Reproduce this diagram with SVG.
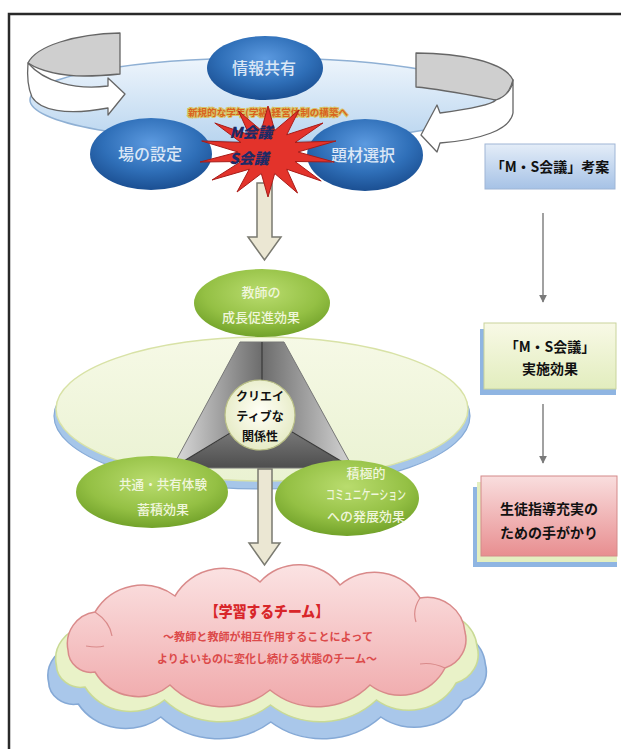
<svg xmlns="http://www.w3.org/2000/svg" width="621" height="749" viewBox="0 0 621 749">
  <defs>
    <style>
      .jp { font-family: "Noto Sans CJK JP", "Noto Sans", sans-serif; }
      .blueTxt { fill: #dbe7f6; font-size: 16px; font-weight: 500; text-anchor: middle; }
      .greenTxt { fill: #f0f6dc; font-size: 13px; font-weight: 500; text-anchor: middle; }
      .boxTxt { fill: #111; font-size: 14px; font-weight: 700; text-anchor: middle; }
      .ribbon { stroke: #666; stroke-width: 1.3; stroke-linejoin: round; }
      .bigArrow { fill: #ebe7d3; stroke: #7a7a70; stroke-width: 1.5; }
      .thin { stroke: #8a8a8a; stroke-width: 1.6; fill: none; marker-end: url(#tip); }
      .divider { stroke: #3a3a3a; stroke-width: 1.2; }
    </style>
    <marker id="tip" viewBox="0 0 10 10" refX="9" refY="5" markerWidth="5" markerHeight="5" orient="auto">
      <path d="M0,0 L10,5 L0,10 Z" fill="#7a7a7a"/>
    </marker>
    <radialGradient id="gBlue" cx="50%" cy="35%" r="65%">
      <stop offset="0" stop-color="#5c9ae0"/>
      <stop offset="0.6" stop-color="#2f6fb8"/>
      <stop offset="1" stop-color="#1b4f92"/>
    </radialGradient>
    <radialGradient id="gGreen" cx="50%" cy="35%" r="65%">
      <stop offset="0" stop-color="#b9dc6e"/>
      <stop offset="0.65" stop-color="#94c044"/>
      <stop offset="1" stop-color="#72a22a"/>
    </radialGradient>
    <linearGradient id="gPlatter" x1="0" y1="0" x2="0" y2="1">
      <stop offset="0" stop-color="#eef5fc"/>
      <stop offset="1" stop-color="#b9d5ef"/>
    </linearGradient>
    <linearGradient id="gPale" x1="0" y1="0" x2="0" y2="1">
      <stop offset="0" stop-color="#f6f9e6"/>
      <stop offset="1" stop-color="#eaf2d2"/>
    </linearGradient>
    <linearGradient id="gLeftFace" x1="0" y1="0" x2="1" y2="0">
      <stop offset="0" stop-color="#dedede"/>
      <stop offset="1" stop-color="#6c6c6c"/>
    </linearGradient>
    <linearGradient id="gRightFace" x1="0" y1="0" x2="1" y2="0">
      <stop offset="0" stop-color="#6c6c6c"/>
      <stop offset="1" stop-color="#d6d6d6"/>
    </linearGradient>
    <linearGradient id="gBottomFace" x1="0" y1="0" x2="0" y2="1">
      <stop offset="0" stop-color="#8a8a8a"/>
      <stop offset="1" stop-color="#4e4e4e"/>
    </linearGradient>
    <radialGradient id="gCircle" cx="50%" cy="45%" r="55%">
      <stop offset="0" stop-color="#fffff6"/>
      <stop offset="1" stop-color="#e6ebc6"/>
    </radialGradient>
    <linearGradient id="gPink" x1="0" y1="0" x2="0" y2="1">
      <stop offset="0" stop-color="#fbe3e3"/>
      <stop offset="1" stop-color="#f0a9ab"/>
    </linearGradient>
    <linearGradient id="gBox1" x1="0" y1="0" x2="0" y2="1">
      <stop offset="0" stop-color="#e4edf8"/>
      <stop offset="1" stop-color="#a6c2e6"/>
    </linearGradient>
    <linearGradient id="gBox2" x1="0" y1="0" x2="0" y2="1">
      <stop offset="0" stop-color="#f8f9e6"/>
      <stop offset="1" stop-color="#e2edbe"/>
    </linearGradient>
    <linearGradient id="gBox3" x1="0" y1="0" x2="0" y2="1">
      <stop offset="0" stop-color="#f9dede"/>
      <stop offset="1" stop-color="#e88e90"/>
    </linearGradient>
    <path id="cloud" d="M 68 650 A 32 32 0 0 1 95 612 A 55 55 0 0 1 175 596 A 56 56 0 0 1 260 582 A 52 52 0 0 1 340 585 A 53 53 0 0 1 420 598 A 38 38 0 0 1 465 632 A 30 30 0 0 1 445 668 A 50 50 0 0 1 370 685 A 75 75 0 0 1 270 690 A 75 75 0 0 1 170 685 A 50 50 0 0 1 95 672 A 23 23 0 0 1 68 650 Z"/>
  </defs>

  <rect width="621" height="749" fill="#ffffff"/>
  <!-- outer frame, open to the right and bottom -->
  <path d="M 9 749 V 14 H 621" fill="none" stroke="#2a2a2a" stroke-width="2.5"/>

  <!-- top cycle: platter with the two curved arrows -->
  <g id="platter">
    <ellipse cx="262" cy="100" rx="232" ry="42" fill="url(#gPlatter)" stroke="#8fb0d4" stroke-width="1.5"/>
  </g>
  <g id="cycle-left">
    <path class="ribbon" fill="#cfcfcf" d="M 120 33 C 75 34, 36 46, 28 63 C 42 72, 64 76, 84 76 C 98 76, 110 75, 120 74 Z"/>
    <path class="ribbon" fill="#ffffff" d="M 28 63 C 27 75, 28 88, 32 97 C 40 110, 65 116, 108 108 L 108 115 L 125 94 L 108 78 L 108 86 C 75 90, 44 82, 28 63 Z"/>
  </g>
  <g id="cycle-right">
    <path class="ribbon" fill="#cfcfcf" d="M 416 53 C 460 53, 505 62, 513 80 C 510 92, 503 99, 496 100 C 470 95, 440 89, 416 87 Z"/>
    <path class="ribbon" fill="#ffffff" d="M 513 80 L 513 113 C 510 130, 480 140, 440 143 L 437 152 L 421 135 L 437 105 L 440 113 C 470 109, 492 104, 496 100 C 505 97, 512 90, 513 80 Z"/>
  </g>

  <!-- connectors -->
  <g id="connectors">
    <path class="bigArrow" d="M 257 183 H 272 V 237 H 281 L 264.5 260 L 248 237 H 257 Z"/>
    <path class="thin" d="M 543 213 V 302"/>
    <path class="thin" d="M 543 404 V 463"/>
  </g>

  <g id="node-share">
    <ellipse cx="265" cy="68" rx="58" ry="32" fill="url(#gBlue)"/>
    <text class="jp blueTxt" x="264" y="74">情報共有</text>
  </g>
  <g id="node-setting">
    <ellipse cx="151" cy="154" rx="61" ry="36" fill="url(#gBlue)"/>
    <text class="jp blueTxt" x="150" y="160">場の設定</text>
  </g>
  <g id="node-material">
    <ellipse cx="365" cy="155" rx="58" ry="36" fill="url(#gBlue)"/>
    <text class="jp blueTxt" x="363" y="161">題材選択</text>
  </g>

  <g id="node-meeting">
    <text class="jp" x="268" y="116" font-size="9" font-weight="700" text-anchor="middle" textLength="160" lengthAdjust="spacingAndGlyphs" fill="#d9621e" stroke="#d6c466" stroke-width="2" paint-order="stroke">新規的な学年(学級)経営体制の構築へ</text>
    <polygon fill="#e3332b" stroke="#a81c18" stroke-width="1" points="268,106 274.7,130.5 299,110 286.7,134.8 323,123 295,142.5 336,141 298,152 334.3,162 295,161.5 321.2,181 286.7,169.2 297.5,193 274.7,173.5 268,197 261.3,173.5 237,192 249.3,169.2 212,180 241,161.5 200,162 238,152 201.7,141 241,142.5 214.8,123 249.3,134.8 238.5,111 261.3,130.5"/>
    <text class="jp" x="251" y="138" font-size="15" font-weight="900" font-style="italic" text-anchor="middle" fill="#1d2a66">M会議</text>
    <text class="jp" x="249" y="164" font-size="15" font-weight="900" font-style="italic" text-anchor="middle" fill="#1d2a66">S会議</text>
  </g>

  <!-- middle: triangle of effects on a pale disc -->
  <g id="disc">
    <ellipse cx="262" cy="416" rx="208" ry="73" fill="#a6c6e9" stroke="#86aad6" stroke-width="1.2"/>
    <ellipse cx="262" cy="409" rx="206" ry="72" fill="url(#gPale)" stroke="#d8e2a6" stroke-width="1.5"/>
  </g>
  <g id="node-creative">
    <polygon points="240,342 262,342 262,415 172,468" fill="url(#gLeftFace)"/>
    <polygon points="262,342 284,342 353,468 262,415" fill="url(#gRightFace)"/>
    <polygon points="172,468 262,415 353,468" fill="url(#gBottomFace)"/>
    <polygon points="240,342 284,342 353,468 172,468" fill="none" stroke="#777" stroke-width="1"/>
    <line class="divider" x1="262" y1="342" x2="262" y2="382"/>
    <line class="divider" x1="232" y1="432" x2="174" y2="467"/>
    <line class="divider" x1="292" y1="432" x2="351" y2="467"/>
    <circle cx="260" cy="415" r="35" fill="url(#gCircle)" stroke="#b9bf86" stroke-width="1.2"/>
    <text class="jp" x="260" y="401" font-size="12" font-weight="700" text-anchor="middle" fill="#111">クリエイ</text>
    <text class="jp" x="260" y="421" font-size="12" font-weight="700" text-anchor="middle" fill="#111">ティブな</text>
    <text class="jp" x="260" y="441" font-size="12" font-weight="700" text-anchor="middle" fill="#111">関係性</text>
  </g>

  <g id="connector-down">
    <path class="bigArrow" d="M 258 469 H 272 V 543 H 280 L 264.5 565 L 249 543 H 258 Z"/>
  </g>

  <g id="node-growth">
    <ellipse cx="262" cy="303" rx="68" ry="34" fill="url(#gGreen)"/>
    <text class="jp greenTxt" x="261" y="297">教師の</text>
    <text class="jp greenTxt" x="261" y="322">成長促進効果</text>
  </g>
  <g id="node-shared">
    <ellipse cx="152" cy="492" rx="76" ry="36" fill="url(#gGreen)"/>
    <text class="jp greenTxt" x="163" y="489" textLength="88" lengthAdjust="spacingAndGlyphs">共通・共有体験</text>
    <text class="jp greenTxt" x="163" y="514">蓄積効果</text>
  </g>
  <g id="node-communication">
    <ellipse cx="347" cy="498" rx="72" ry="38" fill="url(#gGreen)"/>
    <text class="jp greenTxt" x="366" y="478" font-size="11">積極的</text>
    <text class="jp greenTxt" x="366" y="499" font-size="10.5" textLength="80" lengthAdjust="spacingAndGlyphs">コミュニケーション</text>
    <text class="jp greenTxt" x="366" y="521" font-size="11">への発展効果</text>
  </g>

  <!-- bottom: layered cloud -->
  <g id="node-team">
    <use href="#cloud" transform="translate(262 672) scale(1.1 1) translate(-262 -640)" fill="#a9c7ea" stroke="#85a9d6" stroke-width="1.5"/>
    <use href="#cloud" transform="translate(262 655) scale(1.06 1) translate(-262 -640)" fill="#e9f2c8" stroke="#c9da95" stroke-width="1.5"/>
    <use href="#cloud" fill="url(#gPink)" stroke="#d98a8a" stroke-width="1.5"/>
    <path d="M 95 612 Q 110 622 112 636 M 420 598 Q 412 610 416 622 M 445 668 Q 432 662 420 664 M 86 646 Q 98 648 104 646" fill="none" stroke="#d98a8a" stroke-width="1.2"/>
    <text class="jp" x="267" y="617" font-size="15" font-weight="900" text-anchor="middle" fill="#d8262a" textLength="124" lengthAdjust="spacingAndGlyphs">【学習するチーム】</text>
    <text class="jp" x="268" y="641" font-size="11" font-weight="700" text-anchor="middle" fill="#dc4a4a" textLength="210" lengthAdjust="spacingAndGlyphs">～教師と教師が相互作用することによって</text>
    <text class="jp" x="267" y="663" font-size="11" font-weight="700" text-anchor="middle" fill="#dc4a4a" textLength="220" lengthAdjust="spacingAndGlyphs">よりよいものに変化し続ける状態のチーム～</text>
  </g>

  <!-- right column: process steps -->
  <g id="step-plan">
    <rect x="485" y="144" width="130" height="45" fill="url(#gBox1)" stroke="#9fb6d6" stroke-width="1"/>
    <text class="jp boxTxt" x="550" y="172">「M・S会議」考案</text>
  </g>
  <g id="step-effect">
    <rect x="480" y="329" width="136" height="66" fill="#8fb5e2"/>
    <rect x="484" y="323" width="132" height="66" fill="url(#gBox2)" stroke="#c9d49c" stroke-width="1"/>
    <text class="jp boxTxt" x="550" y="352">「M・S会議」</text>
    <text class="jp boxTxt" x="550" y="374">実施効果</text>
  </g>
  <g id="step-clue">
    <rect x="473" y="487" width="144" height="80" fill="#8fb5e2"/>
    <rect x="477" y="482" width="140" height="80" fill="#e4efc0"/>
    <rect x="481" y="476" width="136" height="80" fill="url(#gBox3)" stroke="#d48a8a" stroke-width="1"/>
    <text class="jp boxTxt" x="549" y="514" font-size="15">生徒指導充実の</text>
    <text class="jp boxTxt" x="549" y="538" font-size="15">ための手がかり</text>
  </g>
</svg>
